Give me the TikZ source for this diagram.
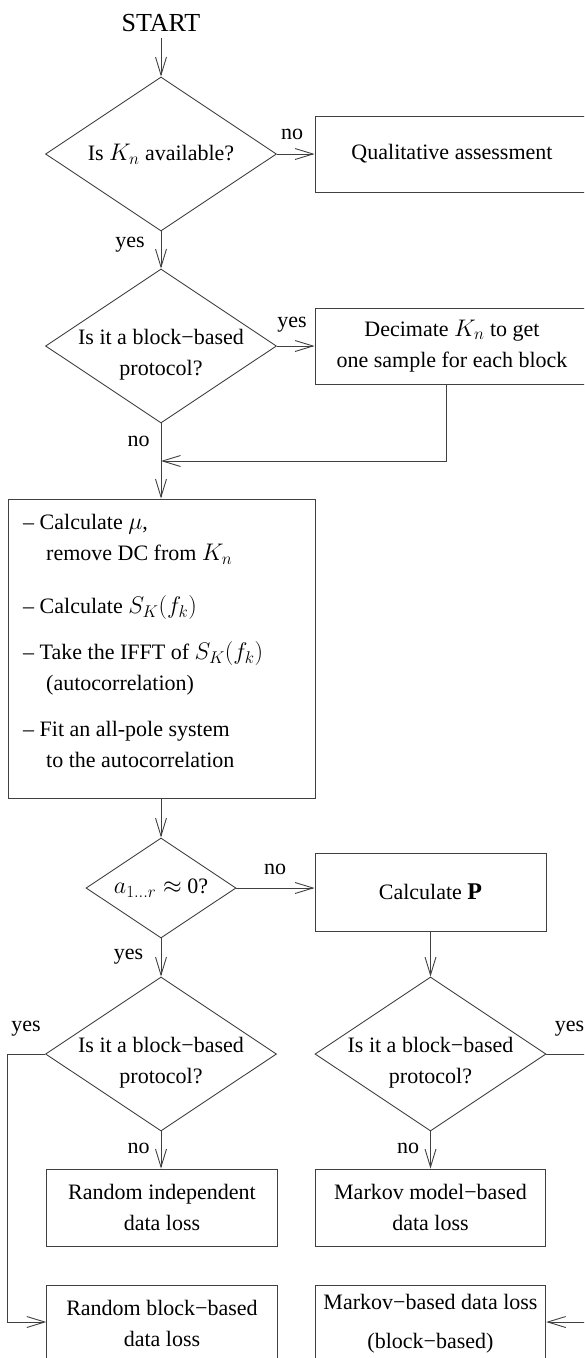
\RequirePackage{fix-cm}
\documentclass[tikz,border=0pt]{standalone}
\usepackage{fontspec}
\setmainfont{Liberation Serif}
\usetikzlibrary{shapes.geometric,arrows.meta}
\DeclareMathSizes{22}{24}{17}{13}

\colorlet{edge}{black!75}

\tikzset{
  box/.style={rectangle, draw=edge, line width=0.9pt, inner sep=0pt, align=center},
  decision/.style={diamond, draw=edge, line width=0.9pt, inner sep=0pt, aspect=1.5},
  txt/.style={inner sep=0pt, align=center},
  flow/.style={draw=edge, line width=0.9pt, -{Straight Barb[length=18pt,width=11pt]}},
}

\begin{document}
\begin{tikzpicture}[x=1pt, y=-1pt, every node/.style={font=\fontsize{22}{31}\selectfont}]
  \useasboundingbox (0,0) rectangle (584,1358);
  \clip (0,0) rectangle (584,1358);

  \draw (161, 23)     node[inner sep=6pt, font=\fontsize{26}{30}\selectfont] (start) {START};
  \draw (161, 154)    node[decision, minimum width=231pt, minimum height=154pt] (avail) {Is $K_n$ available?};
  \draw (452, 154)    node[box, minimum width=274pt, minimum height=76pt] (qual) {Qualitative assessment};
  \draw (161, 346)    node[decision, minimum width=231pt, minimum height=154pt] (blk) {};
  \draw (161, 355)    node[txt] (blktxt) {Is it a block−based\\protocol?};
  \draw (452, 346)    node[box, minimum width=274pt, minimum height=76pt] (dec) {Decimate $K_n$ to get\\one sample for each block};
  \coordinate (merge) at (161, 461);
  \draw (161.5, 648.5) node[box, minimum width=307pt, minimum height=299pt] (calc) {};
  \draw (23, 514.5)   node[anchor=north west, align=left, inner sep=0pt] (steps) {%
    --\ Calculate $\mu$,\\
    \hspace*{23pt}remove DC from $K_n$\\[22pt]
    --\ Calculate $S_K(f_k)$\\[15pt]
    --\ Take the IFFT of $S_K(f_k)$\\
    \hspace*{23pt}(autocorrelation)\\[15pt]
    --\ Fit an all-pole system\\
    \hspace*{23pt}to the autocorrelation};
  \draw (161, 888)    node[decision, minimum width=150pt, minimum height=100pt] (zero) {$a_{1\dots r}\approx$ 0?};
  \draw (430.5, 892)  node[box, minimum width=231pt, minimum height=78pt] (calcP) {Calculate $\mathbf{P}$};
  \draw (161, 1054)   node[decision, minimum width=231pt, minimum height=154pt] (blkA) {};
  \draw (161, 1063)   node[txt] (blkAtxt) {Is it a block−based\\protocol?};
  \draw (430.5, 1054) node[decision, minimum width=231pt, minimum height=154pt] (blkB) {};
  \draw (430.5, 1063) node[txt] (blkBtxt) {Is it a block−based\\protocol?};
  \draw (162, 1207.5)   node[box, minimum width=230.5pt, minimum height=77pt] (indep) {Random independent\\data loss};
  \draw (430.5, 1207.5) node[box, minimum width=230.5pt, minimum height=77pt] (markov) {Markov model−based\\data loss};
  \draw (162, 1323.5)   node[box, minimum width=230.5pt, minimum height=77pt] (randblk) {Random block−based\\data loss};
  \draw (430.5, 1323.5) node[box, minimum width=230.5pt, minimum height=77pt] (markblk) {Markov−based data loss\\[8pt](block−based)};
  \coordinate (leftrail) at (7.5, 1322);
  \coordinate (rightrail) at (600, 1322);

  \draw[flow] (start) -- (avail);
  \draw[flow] (avail) -- (qual);
  \draw[flow] (avail) -- (blk);
  \draw[flow] (blk) -- (dec);
  \draw[flow] (blk.south) -- (blk.south |- calc.north);
  \draw[flow] ([xshift=-6pt]dec.south) |- (merge);
  \draw[flow] (zero |- calc.south) -- (zero.north);
  \draw[flow] (zero.east) -- (zero.east -| calcP.west);
  \draw[flow] (zero) -- (blkA);
  \draw[flow] (calcP) -- (blkB);
  \draw[flow] (blkA.south) -- (blkA.south |- indep.north);
  \draw[flow] (blkB) -- (markov);
  \draw[flow] (blkA.west) -| (leftrail) -- (leftrail -| randblk.west);
  \draw[flow] (blkB.east) -| (rightrail) -- (rightrail -| markblk.east);

  \draw (292, 134)   node (noA) {no};
  \draw (130, 245)   node (yesA) {yes};
  \draw (292, 325)   node (yesB) {yes};
  \draw (138.5, 441) node (noB) {no};
  \draw (275, 869)   node (noC) {no};
  \draw (128.5, 957) node (yesC) {yes};
  \draw (26, 1029)   node (yesD) {yes};
  \draw (569.5, 1029) node (yesE) {yes};
  \draw (138.5, 1148) node (noD) {no};
  \draw (408, 1148)  node (noE) {no};
\end{tikzpicture}
\end{document}
